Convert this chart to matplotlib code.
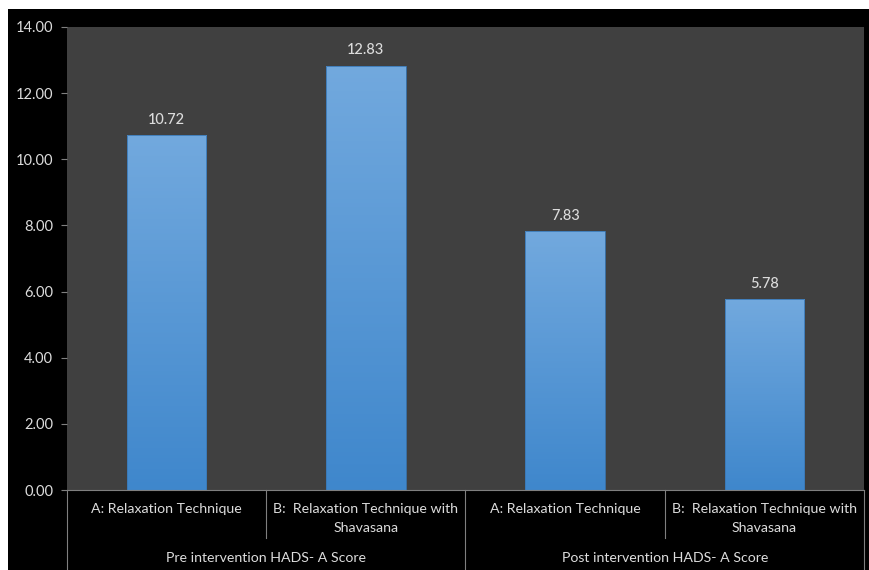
import matplotlib
matplotlib.use("Agg")
import matplotlib.pyplot as plt
import numpy as np
from matplotlib.patches import Rectangle
import matplotlib.transforms as mtransforms
from matplotlib.colors import LinearSegmentedColormap

categories = ["A: Relaxation Technique", "B:  Relaxation Technique with\nShavasana",
              "A: Relaxation Technique", "B:  Relaxation Technique with\nShavasana"]
groups = ["Pre intervention HADS- A Score", "Post intervention HADS- A Score"]
values = [10.72, 12.83, 7.83, 5.78]
value_labels = ["10.72", "12.83", "7.83", "5.78"]
yticks = [0, 2, 4, 6, 8, 10, 12, 14]

plt.rcParams['font.family'] = ['Lato', 'DejaVu Sans']
txt = '#dcdcdc'

fig = plt.figure(figsize=(8.7, 5.7), dpi=100, facecolor='white')
fig.patches.append(Rectangle((8/870, 0), 1 - 8/870, 1 - 9/570, transform=fig.transFigure,
                             facecolor='black', edgecolor='none', zorder=-10))
ax = fig.add_axes([67/870, 80/570, 797/870, 463/570])
ax.set_facecolor('#404040')

x = np.arange(len(values))
bars = ax.bar(x, values, width=0.4, color='none', edgecolor='#3a78b5', linewidth=0.6, zorder=3)

grad = np.linspace(0, 1, 256).reshape(-1, 1)
cmap = LinearSegmentedColormap.from_list('g', ['#3f87cc', '#72a9de'])
for b in bars:
    bx, bw, bh = b.get_x(), b.get_width(), b.get_height()
    im = ax.imshow(grad, extent=[bx, bx + bw, 0, bh], origin='lower', cmap=cmap,
                   aspect='auto', zorder=2)
    im.set_clip_path(b)
ax.set_xlim(-0.5, len(values) - 0.5)
ax.set_ylim(0, 14)

for xi, v, lab in zip(x, values, value_labels):
    ax.annotate(lab, (xi, v), xytext=(0, 6), textcoords='offset points',
                ha='center', va='bottom', color=txt, fontsize=10.5, fontweight='medium')

ax.set_yticks(yticks)
ax.set_yticklabels([f"{t:.2f}" for t in yticks], color=txt, fontsize=10.5)
ax.tick_params(axis='y', length=4, color='#808080', width=0.8, pad=6)
ax.set_xticks([])
for s in ax.spines.values():
    s.set_visible(False)

trans = mtransforms.blended_transform_factory(ax.transData, ax.transAxes)
for xi, lab in zip(x, categories):
    ax.text(xi, -0.027, lab, transform=trans, ha='center', va='top', color=txt,
            fontsize=10.2, linespacing=1.7)
for gi, g in enumerate(groups):
    ax.text(gi * 2 + 0.5, -0.147, g, transform=trans, ha='center', va='center',
            color=txt, fontsize=10.2)

line_col = '#7f7f7f'
for xs in [-0.5, 1.5, 3.5]:
    ax.plot([xs, xs], [0, -0.18], transform=trans, color=line_col, lw=0.8, clip_on=False)
for xs in [0.5, 2.5]:
    ax.plot([xs, xs], [0, -0.104], transform=trans, color=line_col, lw=0.8, clip_on=False)
ax.plot([-0.5, 3.5], [0, 0], transform=trans, color=line_col, lw=0.8, clip_on=False, zorder=4)

fig.savefig('out.png', dpi=100, facecolor='white')
